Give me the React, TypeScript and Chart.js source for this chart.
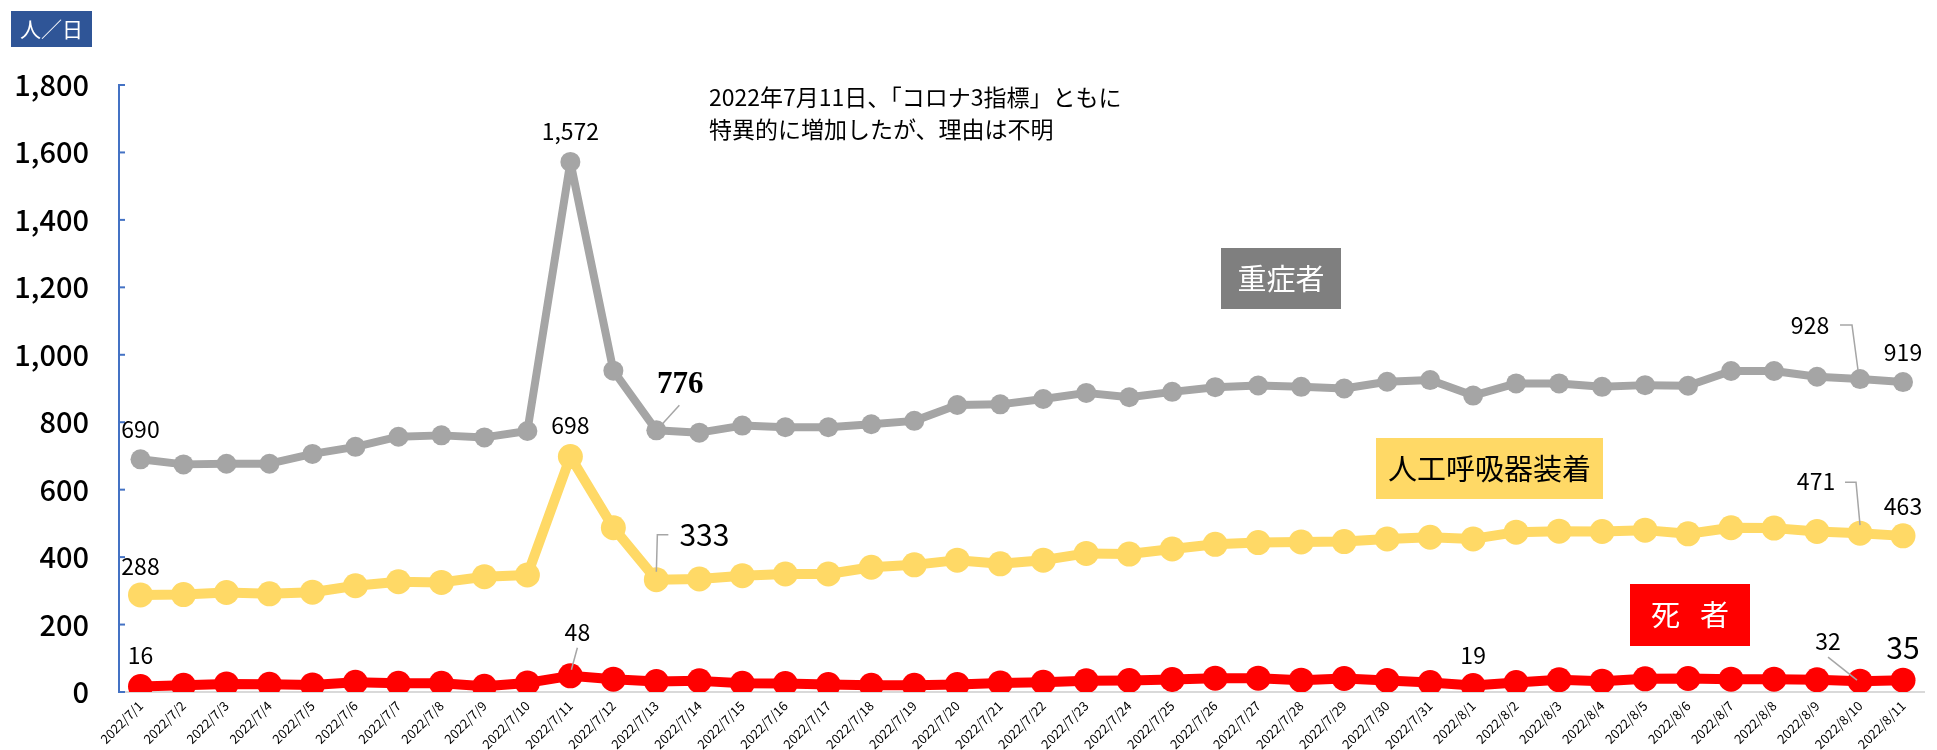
import React, { useEffect, useRef } from "react";
import { Chart, registerables } from "chart.js";

Chart.register(...registerables);

const categories = [
  "2022/7/1", "2022/7/2", "2022/7/3", "2022/7/4", "2022/7/5", "2022/7/6", "2022/7/7",
  "2022/7/8", "2022/7/9", "2022/7/10", "2022/7/11", "2022/7/12", "2022/7/13", "2022/7/14",
  "2022/7/15", "2022/7/16", "2022/7/17", "2022/7/18", "2022/7/19", "2022/7/20", "2022/7/21",
  "2022/7/22", "2022/7/23", "2022/7/24", "2022/7/25", "2022/7/26", "2022/7/27", "2022/7/28",
  "2022/7/29", "2022/7/30", "2022/7/31", "2022/8/1", "2022/8/2", "2022/8/3", "2022/8/4",
  "2022/8/5", "2022/8/6", "2022/8/7", "2022/8/8", "2022/8/9", "2022/8/10", "2022/8/11",
];

const severe = [
  690, 675, 677, 677, 706, 727, 757, 761, 755, 774, 1572, 953, 776, 769, 790, 785, 785, 794,
  804, 851, 853, 869, 887, 874, 890, 904, 909, 905, 900, 920, 925, 879, 915, 915, 905, 910,
  908, 952, 952, 935, 928, 919,
];

const ventilator = [
  288, 289, 295, 291, 296, 315, 327, 325, 342, 347, 698, 487, 333, 335, 345, 350, 350, 370,
  377, 391, 380, 391, 411, 409, 424, 438, 443, 445, 446, 454, 459, 454, 474, 477, 476, 480,
  469, 487, 486, 476, 471, 463,
];

const deaths = [
  16, 20, 24, 23, 21, 29, 26, 26, 17, 27, 48, 38, 31, 33, 26, 25, 22, 20, 20, 22, 27, 29, 33,
  34, 37, 41, 41, 35, 40, 34, 28, 19, 28, 36, 32, 39, 40, 38, 38, 36, 32, 35,
];

const yTicks = [0, 200, 400, 600, 800, 1000, 1200, 1400, 1600, 1800];

const seriesNames = ["重症者", "人工呼吸器装着", "死 者"];
const unitLabel = "人／日";
const noteLines = ["2022年7月11日、「コロナ3指標」ともに", "特異的に増加したが、理由は不明"];

// value labels: ds = 0 severe, 1 ventilator, 2 deaths; idx = point index
const valueLabels = [
  { ds: 0, idx: 0, dx: 0, dy: -30, size: 23 },
  { ds: 0, idx: 10, dx: 0, dy: -31, size: 23 },
  { ds: 0, idx: 12, dx: 24, dy: -45, size: 31, serif: true, leader: [[23, -25], [3, -3]] },
  { ds: 0, idx: 40, dx: -50, dy: -54, size: 23, leader: [[-20, -54], [-8, -54], [-2, -9]] },
  { ds: 0, idx: 41, dx: 0, dy: -30, size: 23 },
  { ds: 1, idx: 0, dx: 0, dy: -29, size: 23 },
  { ds: 1, idx: 10, dx: 0, dy: -31, size: 23 },
  { ds: 1, idx: 12, dx: 48, dy: -45, size: 30, leader: [[12, -45], [1, -45], [0, -8]] },
  { ds: 1, idx: 40, dx: -44, dy: -52, size: 23, leader: [[-15, -51], [-4, -51], [0, -8]] },
  { ds: 1, idx: 41, dx: 0, dy: -30, size: 23 },
  { ds: 2, idx: 0, dx: 0, dy: -31, size: 23 },
  { ds: 2, idx: 10, dx: 7, dy: -44, size: 23, leader: [[7, -28], [1, -6]] },
  { ds: 2, idx: 31, dx: 0, dy: -30, size: 23 },
  { ds: 2, idx: 40, dx: -32, dy: -40, size: 23, leader: [[-32, -24], [-3, -1]] },
  { ds: 2, idx: 41, dx: 0, dy: -33, size: 30 },
];

const FONT = "'Noto Sans CJK JP', 'Noto Sans', sans-serif";

const overlayPlugin = {
  id: "overlay",
  afterDatasetsDraw(chart: any) {
    const ctx = chart.ctx as CanvasRenderingContext2D;
    const y = chart.scales.y;
    const left = chart.chartArea.left;
    ctx.save();
    ctx.strokeStyle = "#4472C4";
    ctx.lineWidth = 2;
    y.ticks.forEach((t: any) => {
      const py = y.getPixelForValue(t.value);
      ctx.beginPath();
      ctx.moveTo(left, py);
      ctx.lineTo(left + 6, py);
      ctx.stroke();
    });

    const allData = [severe, ventilator, deaths];
    valueLabels.forEach((l) => {
      const pt = chart.getDatasetMeta(l.ds).data[l.idx];
      const px = pt.x;
      const py = pt.y;
      if (l.leader) {
        ctx.strokeStyle = "#A6A6A6";
        ctx.lineWidth = 1.5;
        ctx.beginPath();
        l.leader.forEach((p: number[], i: number) => {
          if (i === 0) ctx.moveTo(px + p[0], py + p[1]);
          else ctx.lineTo(px + p[0], py + p[1]);
        });
        ctx.stroke();
      }
      ctx.fillStyle = "#000";
      ctx.textAlign = "center";
      ctx.textBaseline = "middle";
      ctx.font = l.serif ? `bold ${l.size}px 'Liberation Serif', serif` : `${l.size}px ${FONT}`;
      ctx.fillText(allData[l.ds][l.idx].toLocaleString("en-US"), px + l.dx, py + l.dy);
    });
    ctx.restore();
  },
  afterDraw(chart: any) {
    const ctx = chart.ctx as CanvasRenderingContext2D;
    ctx.save();
    ctx.textBaseline = "middle";
    ctx.textAlign = "center";
    ctx.fillStyle = "#2F5597";
    ctx.fillRect(11, 11, 81, 36);
    ctx.fillStyle = "#fff";
    ctx.font = `21px ${FONT}`;
    ctx.fillText(unitLabel, 51.5, 29);

    ctx.fillStyle = "#000";
    ctx.textAlign = "left";
    ctx.font = `23px ${FONT}`;
    ctx.fillText(noteLines[0], 709, 97);
    ctx.fillText(noteLines[1], 709, 129);

    ctx.textAlign = "center";
    ctx.fillStyle = "#7F7F7F";
    ctx.fillRect(1221, 248, 120, 61);
    ctx.fillStyle = "#fff";
    ctx.font = `29px ${FONT}`;
    ctx.fillText(seriesNames[0], 1281, 279);

    ctx.fillStyle = "#FFD966";
    ctx.fillRect(1376, 438, 227, 61);
    ctx.fillStyle = "#000";
    ctx.fillText(seriesNames[1], 1489.5, 469);

    ctx.fillStyle = "#FF0000";
    ctx.fillRect(1630, 584, 120, 62);
    ctx.fillStyle = "#fff";
    const [c1, c2] = seriesNames[2].split(" ");
    ctx.fillText(c1, 1665.5, 615);
    ctx.fillText(c2, 1714.5, 615);
    ctx.restore();
  },
};

export default function App() {
  const ref = useRef<HTMLCanvasElement | null>(null);
  useEffect(() => {
    if (!ref.current) return;
    const chart = new Chart(ref.current, {
      type: "line",
      data: {
        labels: categories,
        datasets: [
          {
            label: seriesNames[0],
            data: severe,
            order: 3,
            borderColor: "#A5A5A5",
            backgroundColor: "#A5A5A5",
            borderWidth: 8,
            borderJoinStyle: "round",
            borderCapStyle: "round",
            pointRadius: 10,
            pointBorderWidth: 0,
            pointBackgroundColor: "#A5A5A5",
          },
          {
            label: seriesNames[1],
            data: ventilator,
            order: 2,
            borderColor: "#FFD966",
            backgroundColor: "#FFD966",
            borderWidth: 10,
            borderJoinStyle: "round",
            borderCapStyle: "round",
            pointRadius: 12.5,
            pointBorderWidth: 0,
            pointBackgroundColor: "#FFD966",
          },
          {
            label: seriesNames[2],
            data: deaths,
            order: 1,
            borderColor: "#FF0000",
            backgroundColor: "#FF0000",
            borderWidth: 10,
            borderJoinStyle: "round",
            borderCapStyle: "round",
            pointRadius: 12.5,
            pointBorderWidth: 0,
            pointBackgroundColor: "#FF0000",
          },
        ],
      },
      options: {
        animation: false,
        responsive: true,
        maintainAspectRatio: false,
        devicePixelRatio: 1,
        layout: { padding: { top: 85, left: 0, right: 0, bottom: 0 } },
        plugins: { legend: { display: false }, tooltip: { enabled: false } },
        scales: {
          x: {
            type: "category",
            offset: true,
            grid: { display: false, drawTicks: false },
            border: { display: true, color: "#D9D9D9", width: 2 },
            ticks: {
              autoSkip: false,
              maxRotation: 45,
              minRotation: 45,
              padding: 6,
              color: "#000",
              font: { family: FONT, size: 13 },
            },
            afterFit: (s: any) => {
              s.height = 58;
            },
          },
          y: {
            min: 0,
            max: 1800,
            afterBuildTicks: (s: any) => {
              s.ticks = yTicks.map((v) => ({ value: v }));
            },
            grid: { display: false, drawTicks: false },
            border: { display: true, color: "#4472C4", width: 2 },
            ticks: {
              padding: 30,
              color: "#000",
              font: { family: FONT, size: 29, weight: "500" },
              callback: (v: any) => Number(v).toLocaleString("en-US"),
            },
            afterFit: (s: any) => {
              s.width = 119;
            },
          },
        },
      },
      plugins: [overlayPlugin],
    });
    return () => chart.destroy();
  }, []);
  return (
    <div style={{ position: "fixed", left: 0, top: 0, width: 1937, height: 750, background: "#fff" }}>
      <canvas ref={ref} />
    </div>
  );
}
